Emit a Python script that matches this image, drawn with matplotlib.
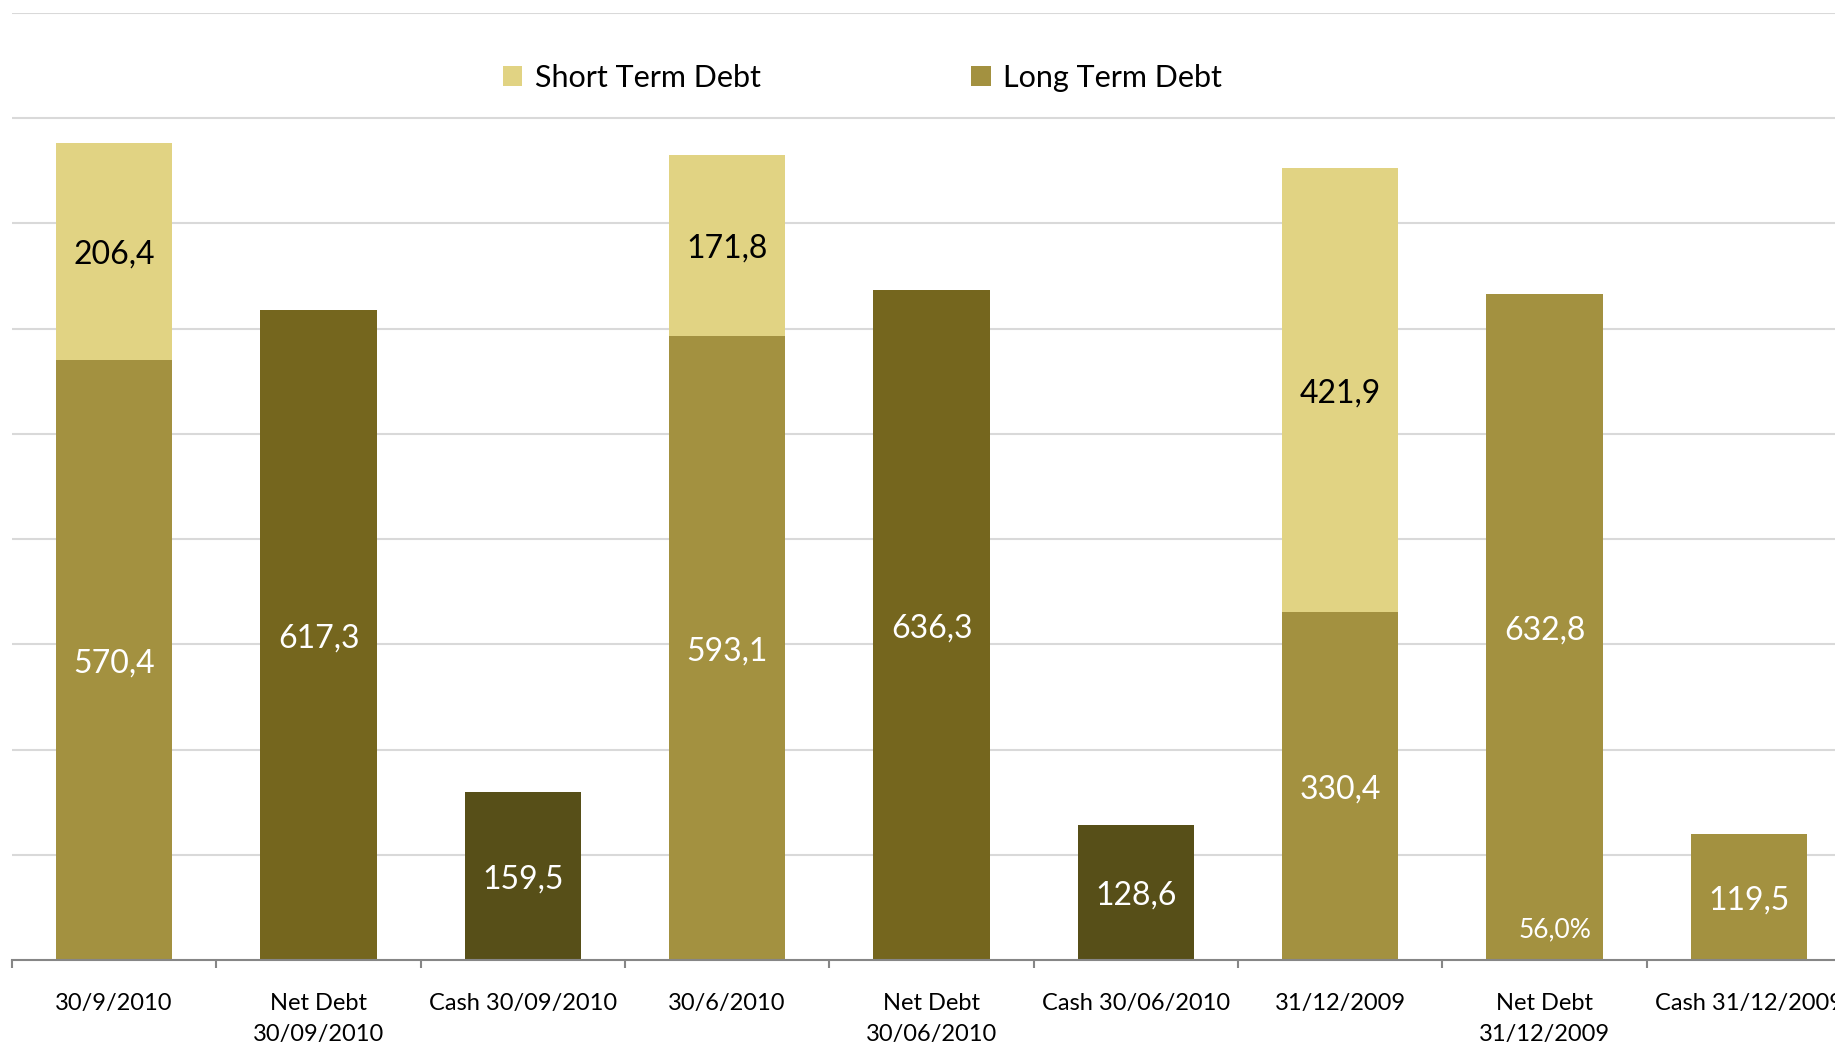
import matplotlib
matplotlib.use("Agg")
import matplotlib.pyplot as plt
from matplotlib.ticker import FixedLocator, NullFormatter
from matplotlib.transforms import offset_copy

plt.rcParams['font.family'] = ['Lato', 'DejaVu Sans']

# Category labels along the x axis
categories = [
    "30/9/2010", "Net Debt\n30/09/2010", "Cash 30/09/2010",
    "30/6/2010", "Net Debt\n30/06/2010", "Cash 30/06/2010",
    "31/12/2009", "Net Debt\n31/12/2009", "Cash 31/12/2009",
]

# Gross debt split by maturity at each reporting date
long_term_debt = [570.4, 593.1, 330.4]
short_term_debt = [206.4, 171.8, 421.9]

# Net debt and cash at each reporting date
net_debt = [617.3, 636.3, 632.8]
cash = [159.5, 128.6, 119.5]

# Share shown inside the last net debt bar
net_debt_share_label = "56,0%"

# Positions of each group within the category list
debt_pos = [0, 3, 6]
net_pos = [1, 4, 7]
cash_pos = [2, 5, 8]

C_SHORT = "#E1D383"
C_LONG = "#A39140"
C_NET = "#75661E"
C_CASH = "#574F18"
net_colors = [C_NET, C_NET, C_LONG]
cash_colors = [C_CASH, C_CASH, C_LONG]

W, H = 1835, 1048
fig = plt.figure(figsize=(W / 100, H / 100), dpi=100)
ax = fig.add_axes([12 / W, 88 / H, 1839 / W, 947 / H])

bw = 0.57
lt = ax.bar(debt_pos, long_term_debt, width=bw, color=C_LONG, label="Long Term Debt", zorder=2)
st = ax.bar(debt_pos, short_term_debt, width=bw, bottom=long_term_debt, color=C_SHORT,
            label="Short Term Debt", zorder=2)
nd = ax.bar(net_pos, net_debt, width=bw, color=net_colors, zorder=2)
ch = ax.bar(cash_pos, cash, width=bw, color=cash_colors, zorder=2)


def fmt(v):
    return f"{v:.1f}".replace(".", ",")


# data labels sit slightly below the geometric centre of each segment
lbl_tr = offset_copy(ax.transData, fig=fig, x=0, y=-2.5, units="points")
label_size = 23
for x, lv, sv in zip(debt_pos, long_term_debt, short_term_debt):
    ax.text(x, lv / 2, fmt(lv), ha="center", va="center", color="white", fontsize=label_size,
            zorder=3, transform=lbl_tr)
    ax.text(x, lv + sv / 2, fmt(sv), ha="center", va="center", color="black", fontsize=label_size,
            zorder=3, transform=lbl_tr)
for x, v in zip(net_pos, net_debt):
    ax.text(x, v / 2, fmt(v), ha="center", va="center", color="white", fontsize=label_size,
            zorder=3, transform=lbl_tr)
for x, v in zip(cash_pos, cash):
    ax.text(x, v / 2, fmt(v), ha="center", va="center", color="white", fontsize=label_size,
            zorder=3, transform=lbl_tr)
ax.text(net_pos[-1] + 0.05, 32, net_debt_share_label, ha="center", va="center", color="white",
        fontsize=19, zorder=3, transform=lbl_tr)

ax.set_xlim(-0.5, len(categories) - 0.5)
ax.set_ylim(0, 900)
ax.set_yticks(range(100, 1000, 100))
ax.yaxis.grid(True, color="#D9D9D9", linewidth=1.5, zorder=0)
ax.tick_params(axis="y", left=False, labelleft=False)

ax.set_xticks(range(len(categories)))
ax.set_xticklabels(categories, fontsize=17, linespacing=1.55)
ax.tick_params(axis="x", which="major", length=0, pad=24)
ax.xaxis.set_minor_locator(FixedLocator([i - 0.5 for i in range(len(categories) + 1)]))
ax.xaxis.set_minor_formatter(NullFormatter())
ax.tick_params(axis="x", which="minor", length=6, width=1.5, color="#868686", direction="out")

for s in ["top", "right", "left"]:
    ax.spines[s].set_visible(False)
ax.spines["bottom"].set_color("#868686")
ax.spines["bottom"].set_linewidth(1.5)
ax.spines["bottom"].set_zorder(4)

fig.legend(handles=[st, lt], labels=["Short Term Debt", "Long Term Debt"],
           loc="center", bbox_to_anchor=(0.470, 0.926), ncol=2, frameon=False,
           fontsize=22, handlelength=0.63, handleheight=0.63, handletextpad=0.4,
           columnspacing=6.9, borderpad=0)

fig.savefig("out.png", dpi=100)
